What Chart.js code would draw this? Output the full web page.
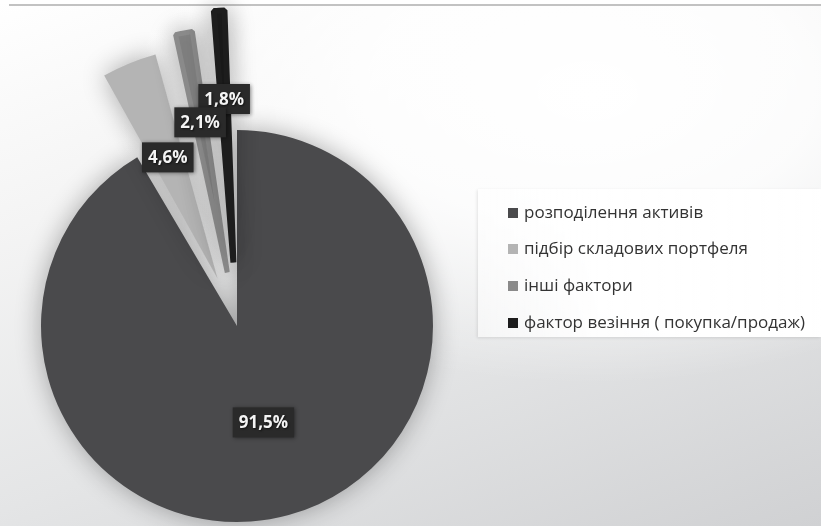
<!DOCTYPE html>
<html>
<head>
<meta charset="utf-8">
<script src="https://cdn.jsdelivr.net/npm/chart.js@4.4.0/dist/chart.umd.min.js"></script>
<style>
  html, body { margin: 0; padding: 0; }
  body {
    width: 821px; height: 526px; overflow: hidden; position: relative;
    background:
      radial-gradient(ellipse 60% 55% at 72% 18%, rgba(255,255,255,1) 0%, rgba(255,255,255,0.85) 45%, rgba(255,255,255,0) 100%),
      linear-gradient(160deg, #ffffff 0%, #f4f4f4 28%, #e4e5e6 62%, #d0d1d3 100%);
  }
  #topfill { position: absolute; left: 0; right: 0; top: 0; height: 4px; background: #fff; }
  #topline { position: absolute; left: 9px; right: 0; top: 4px; height: 2px; background: #c2c2c2; }
  #chart { position: absolute; left: 0; top: 0; }
  #legend {
    position: absolute; left: 478px; top: 189px; width: 343px; height: 148px;
    background: linear-gradient(90deg, rgba(255,255,255,0.55), rgba(255,255,255,0.95) 35%, #fff);
    box-shadow: -1px 1px 3px rgba(0,0,0,0.10);
  }
  .item { position: absolute; left: 30px; height: 20px; line-height: 20px; white-space: nowrap;
    font-family: "Open Sans", sans-serif; font-size: 17px; color: #333; }
  .item i { display: inline-block; width: 10px; height: 10px; margin-right: 6px; vertical-align: 0px; }
</style>
</head>
<body>
<div id="topfill"></div>
<div id="topline"></div>
<canvas id="chart" width="821" height="526"></canvas>
<div id="legend"></div>
<script>
// Structure of portfolio returns, %
const categories = [
    'розподілення активів',
    'підбір складових портфеля',
    'інші фактори',
    'фактор везіння ( покупка/продаж)'
];
const shares = [91.5, 4.6, 2.1, 1.8];
const sliceColors = ['#4a4a4c', '#b4b4b4', '#8a8a8a', '#1d1d1d'];

// how far out each value box sits, as a share of the pie radius
const labelReach = [0.51, 0.93, 1.056, 1.16];

const valueText = v => v.toFixed(1).replace('.', ',') + '%';

// Dark value boxes placed along each slice's middle angle
// (drawn last-to-first so the lower boxes sit on top of the upper ones)
const valueBoxes = {
    id: 'valueBoxes',
    afterDatasetsDraw(chart) {
        const ctx = chart.ctx;
        const arcs = chart.getDatasetMeta(0).data;
        ctx.save();
        ctx.font = 'bold 17px "Open Sans"';
        ctx.textAlign = 'center';
        ctx.textBaseline = 'middle';
        for (let i = arcs.length - 1; i >= 0; i--) {
            const p = arcs[i].getProps(['x', 'y', 'startAngle', 'endAngle', 'outerRadius'], true);
            const mid = (p.startAngle + p.endAngle) / 2;
            const dist = p.outerRadius * labelReach[i];
            const cx = p.x + Math.cos(mid) * dist;
            const cy = p.y + Math.sin(mid) * dist;
            const text = valueText(shares[i]);
            const w = ctx.measureText(text).width + 12;
            const h = 30;
            ctx.shadowColor = 'rgba(0,0,0,0.45)';
            ctx.shadowBlur = 4;
            ctx.shadowOffsetX = 1;
            ctx.shadowOffsetY = 1;
            ctx.fillStyle = '#2a2a2a';
            ctx.fillRect(cx - w / 2, cy - h / 2, w, h);
            ctx.shadowColor = 'rgba(0,0,0,0.6)';
            ctx.shadowBlur = 2;
            ctx.fillStyle = '#f4f4f4';
            ctx.fillText(text, cx, cy + 1);
        }
        ctx.restore();
    }
};

// Soft shadow under the slices
const sliceShadow = {
    id: 'sliceShadow',
    beforeDatasetsDraw(chart) {
        const ctx = chart.ctx;
        ctx.save();
        ctx.shadowColor = 'rgba(0,0,0,0.32)';
        ctx.shadowBlur = 26;
    },
    afterDatasetsDraw(chart) {
        chart.ctx.restore();
    }
};

new Chart(document.getElementById('chart'), {
    type: 'pie',
    data: {
        labels: categories,
        datasets: [{
            data: shares,
            backgroundColor: sliceColors,
            borderColor: sliceColors,
            // thin exploded slices get a same-colour rim so they read wider
            borderWidth: [0, 0, 5, 6],
            offset: [0, 205, 218, 254],
            clip: false
        }]
    },
    options: {
        responsive: false,
        animation: false,
        events: [],
        radius: 196,
        layout: { padding: { left: 0, right: 347, top: 126, bottom: 0 } },
        plugins: {
            legend: { display: false },
            tooltip: { enabled: false }
        }
    },
    plugins: [sliceShadow, valueBoxes]
});

// Legend on the right
const legend = document.getElementById('legend');
const rowTops = [13, 49, 86, 123];
categories.forEach((name, i) => {
    const row = document.createElement('div');
    row.className = 'item';
    row.style.top = rowTops[i] + 'px';
    row.innerHTML = '<i style="background:' + sliceColors[i] + '"></i>' + name;
    legend.appendChild(row);
});
</script>
</body>
</html>
